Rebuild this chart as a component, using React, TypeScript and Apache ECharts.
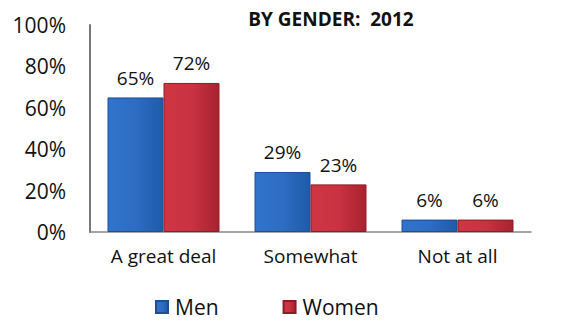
import React, { useEffect, useRef } from "react";
import * as echarts from "echarts";

const categories = ["A great deal", "Somewhat", "Not at all"];
const menValues = [65, 29, 6];
const womenValues = [72, 23, 6];
const yTicks = [0, 20, 40, 60, 80, 100];
const titleText = "BY GENDER:  2012";
const seriesNames = ["Men", "Women"];

const FONT = "'Open Sans', 'Noto Sans', sans-serif";

export default function App() {
  const ref = useRef<HTMLDivElement>(null);
  useEffect(() => {
    if (!ref.current) return;
    const chart = echarts.init(ref.current, undefined, { renderer: "svg" });
    const blue = new echarts.graphic.LinearGradient(0, 0, 1, 0, [
      { offset: 0, color: "#3174cc" },
      { offset: 0.5, color: "#2d6dc4" },
      { offset: 1, color: "#205aa9" },
    ]);
    const red = new echarts.graphic.LinearGradient(0, 0, 1, 0, [
      { offset: 0, color: "#cf3643" },
      { offset: 0.5, color: "#c93241" },
      { offset: 1, color: "#a82230" },
    ]);
    const labelStyle = {
      show: true,
      position: "top" as const,
      distance: 10,
      formatter: "{c}%",
      fontFamily: FONT,
      fontSize: 19,
      color: "#111",
    };
    chart.setOption({
      animation: false,
      title: {
        text: titleText,
        left: 326,
        textAlign: "center",
        top: 4,
        textStyle: { fontFamily: FONT, fontSize: 19, fontWeight: "bold", color: "#111" },
      },
      legend: {
        data: seriesNames,
        top: 296,
        left: 155,
        padding: 0,
        itemWidth: 12,
        itemHeight: 12,
        itemGap: 64,
        icon: "rect",
        textStyle: { fontFamily: FONT, fontSize: 21, lineHeight: 22, color: "#111", padding: [0, 0, 0, 2] },
      },
      grid: { left: 90, right: 34, top: 25, bottom: 92 },
      xAxis: {
        type: "category",
        data: categories,
        axisTick: { show: false },
        axisLine: { show: true, lineStyle: { color: "#888", width: 1.5 } },
        axisLabel: { fontFamily: FONT, fontSize: 19, color: "#111", margin: 14 },
      },
      yAxis: {
        type: "value",
        min: 0,
        max: 100,
        interval: 20,
        splitLine: { show: false },
        axisLine: { show: true, lineStyle: { color: "#777", width: 2 } },
        axisTick: { show: false },
        axisLabel: {
          fontFamily: FONT,
          fontSize: 21,
          color: "#111",
          margin: 24,
          formatter: (v: number) => (yTicks.includes(v) ? v + "%" : ""),
        },
      },
      series: [
        {
          name: seriesNames[0],
          type: "bar",
          data: menValues,
          barWidth: 56,
          barGap: "0%",
          itemStyle: { color: blue, borderColor: "#1d4f96", borderWidth: 1 },
          label: labelStyle,
        },
        {
          name: seriesNames[1],
          type: "bar",
          data: womenValues,
          barWidth: 56,
          barGap: "0%",
          itemStyle: { color: red, borderColor: "#8e1c26", borderWidth: 1 },
          label: labelStyle,
        },
      ],
    });
    return () => chart.dispose();
  }, []);
  return <div ref={ref} style={{ width: 565, height: 324, position: "absolute", left: 0, top: 0 }} />;
}
